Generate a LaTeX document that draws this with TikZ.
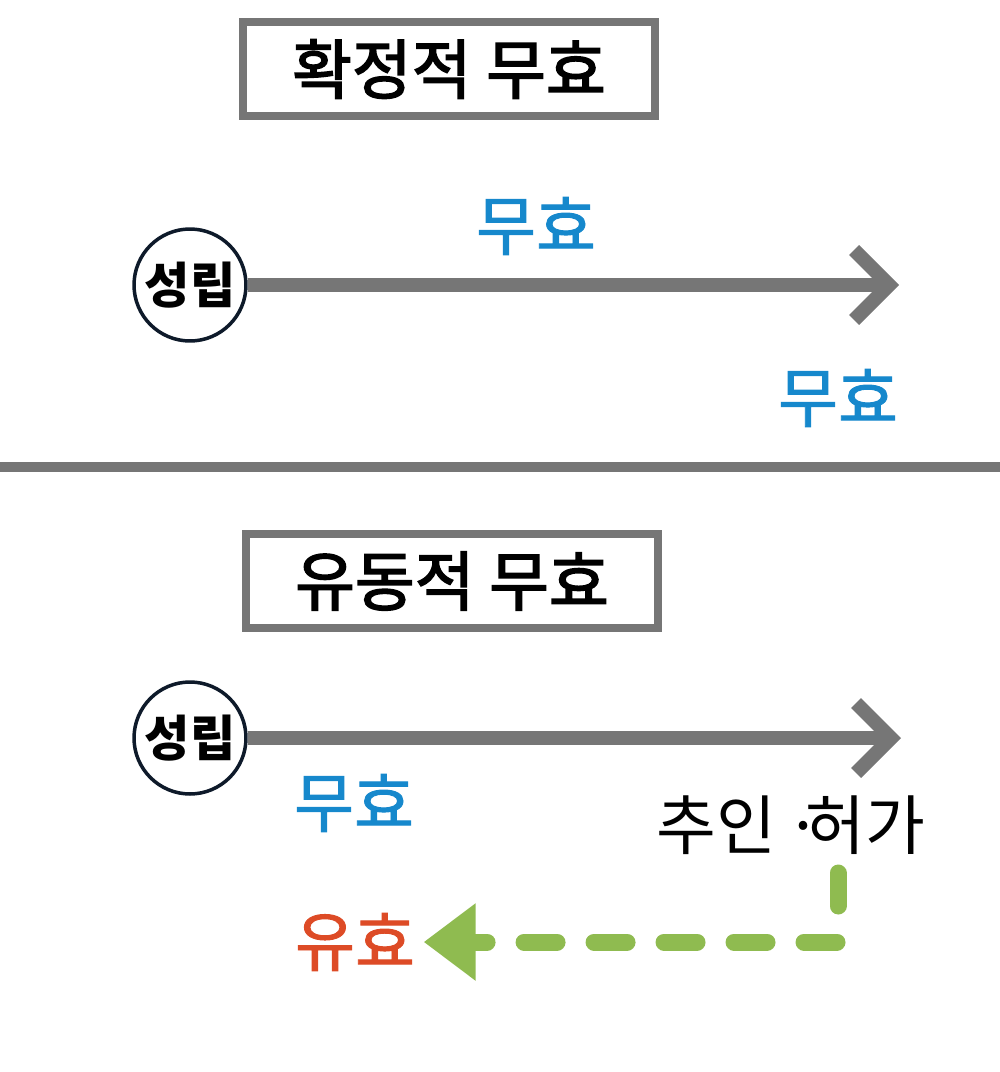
\documentclass[tikz,border=0pt]{standalone}
\usepackage{fontspec}
\setmainfont{Noto Sans CJK KR}
\newfontfamily\moyen{Noto Sans CJK KR}[FakeBold=1.5]
\newfontfamily\epais{Noto Sans CJK KR}[FakeBold=2.4]
\usetikzlibrary{arrows.meta}
\usetikzlibrary{positioning}

\definecolor{gris}{HTML}{767676}
\definecolor{marine}{HTML}{0E1A2A}
\definecolor{bleu}{HTML}{1688CC}
\definecolor{rouge}{HTML}{DD4B26}
\definecolor{vert}{HTML}{8FBB50}

\begin{document}
\begin{tikzpicture} [
    x=0.02cm, y=-0.02cm,
    cadre/.style    = { rectangle, draw=gris, line width=0.17cm,
                        minimum width=8.25cm, minimum height=1.89cm,
                        font=\epais\fontsize{37}{42}\selectfont },
    etat/.style     = { circle, draw=marine, line width=0.07cm,
                        minimum size=2.24cm, inner sep=0pt,
                        font=\fontsize{28}{32}\selectfont\bfseries },
    line/.style     = { draw=gris, line width=0.28cm,
                        -{Straight Barb[sharp,length=0.7cm,width=1.4cm]} },
    etiq/.style     = { font=\moyen\fontsize{37}{42}\selectfont, inner sep=2pt },
    retour/.style   = { draw=vert, line width=0.34cm, line cap=round,
                        dash pattern=on 0.66cm off 0.74cm, shorten >=0.1cm,
                        -{Triangle[length=1.04cm,width=1.48cm]} },
  ]
\useasboundingbox (0,0) rectangle (1000,1072);

% definitif
\node (T1) [cadre] at (449,69) {확정적 무효};
\node (S1) [etat] at (190,285) {성립};
\coordinate (F1) at (899,285);
\node (nul1) [etiq,text=bleu] at (536,226) {무효};
\node (nul2) [etiq,text=bleu] at (838,398) {무효};

\draw[gris,line width=0.2cm] (0,467) -- (1000,467);

% flottant
\node (T2) [cadre] at (452,581) {유동적 무효};
\node (S2) [etat] at (190,738) {성립};
\coordinate (F2) at (901,738);
\node (nul3) [etiq,text=bleu] at (354,803) {무효};
\node (ratif) [etiq,font=\fontsize{37}{42}\selectfont] at (791,825)
  {추인\kern-0.08em\ ·\kern-0.25em 허가};
\node (valide) [etiq,text=rouge] at (355,942) {유효};
\coordinate (D) at (838,873);

\begin{scope}[every path/.style=line]
\path (S1) -- (F1);
\path (S2) -- (F2);
\end{scope}
\path[retour] (D) |- (valide);

\end{tikzpicture}
\end{document}
